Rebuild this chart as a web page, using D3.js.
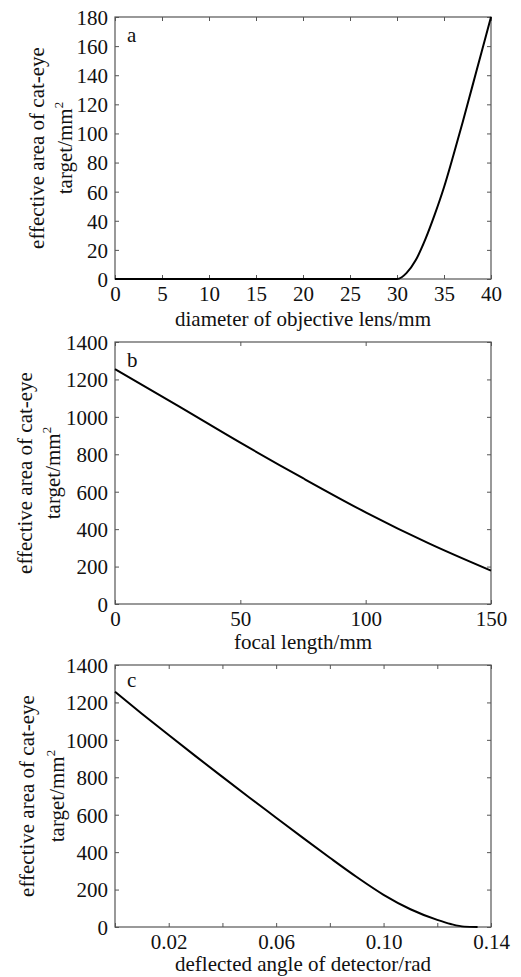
<!DOCTYPE html>
<html><head><meta charset="utf-8">
<script src="https://cdn.jsdelivr.net/npm/d3@7"></script>
<style>body{margin:0;background:#fff;}</style></head>
<body><svg id="c" width="521" height="977"></svg>
<script>
// Panel a: diameter of objective lens (mm) vs effective area
const aX = [0, 5, 10, 15, 20, 25, 30, 30.5, 31, 32, 33, 34, 35, 36, 37, 38, 39, 40];
const aY = [0, 0, 0, 0, 0, 0, 0, 1.2, 4, 13, 27, 44, 63, 85, 108, 132, 156, 180];
const aXTicks = [0, 5, 10, 15, 20, 25, 30, 35, 40];
const aYTicks = [0, 20, 40, 60, 80, 100, 120, 140, 160, 180];
// Panel b: focal length (mm)
const bX = [0, 25, 50, 75, 100, 125, 150];
const bY = [1255, 1060, 862, 672, 490, 325, 178];
const bXTicks = [0, 50, 100, 150];
const bYTicks = [0, 200, 400, 600, 800, 1000, 1200, 1400];
// Panel c: deflected angle of detector (rad)
const cX = [0, 0.01, 0.02, 0.03, 0.04, 0.05, 0.06, 0.07, 0.08, 0.09, 0.10, 0.11, 0.12, 0.125, 0.13, 0.135];
const cY = [1257, 1140, 1026, 913, 802, 692, 584, 476, 370, 267, 172, 95, 38, 16, 2, 0];
const cXTicks = [0, 0.02, 0.04, 0.06, 0.08, 0.10, 0.12, 0.14];
const cXLabeled = [0.02, 0.06, 0.10, 0.14];
const cYTicks = [0, 200, 400, 600, 800, 1000, 1200, 1400];

const yTitle1 = "effective area of cat-eye";
const yTitle2a = "target/mm";
const fmtInt = d3.format("d");
const panels = [
  {xs:aX, ys:aY, xd:[0,40], yd:[0,180], xt:aXTicks, xl:aXTicks, yt:aYTicks, xfmt:fmtInt,
   title:"diameter of objective lens/mm", tag:"a", top:17, bottom:279, yl1:44, yl2:72, tagDy:25, tDy:47},
  {xs:bX, ys:bY, xd:[0,150], yd:[0,1400], xt:bXTicks, xl:bXTicks, yt:bYTicks, xfmt:fmtInt,
   title:"focal length/mm", tag:"b", top:342, bottom:604, yl1:32, yl2:60, tagDy:25, tDy:45},
  {xs:cX, ys:cY, xd:[0,0.14], yd:[0,1400], xt:cXTicks, xl:cXLabeled, yt:cYTicks, xfmt:d3.format(".2f"),
   title:"deflected angle of detector/rad", tag:"c", top:665, bottom:927, yl1:34, yl2:64, tagDy:22, tDy:44}
];
const L = 115, R = 491, FS = 21, TK = 4, FF = "Times New Roman";
const svg = d3.select("#c");
const fontify = sel => sel.attr("font-family", FF).attr("font-size", FS).attr("fill", "#111");

panels.forEach(p => {
  const x = d3.scaleLinear().domain(p.xd).range([L, R]);
  const y = d3.scaleLinear().domain(p.yd).range([p.bottom, p.top]);
  const g = svg.append("g");
  g.append("rect").attr("x", L).attr("y", p.top).attr("width", R - L).attr("height", p.bottom - p.top)
    .attr("fill", "none").attr("stroke", "#555").attr("stroke-width", 1.2);
  const bx = g.append("g").attr("transform", `translate(0,${p.bottom})`)
    .call(d3.axisBottom(x).tickValues(p.xt).tickSize(-TK)
      .tickFormat(d => p.xl.some(v => Math.abs(v - d) < 1e-9) ? p.xfmt(d) : ""));
  const tx = g.append("g").attr("transform", `translate(0,${p.top})`)
    .call(d3.axisTop(x).tickValues(p.xt).tickSize(-TK).tickFormat(""));
  const ly = g.append("g").attr("transform", `translate(${L},0)`)
    .call(d3.axisLeft(y).tickValues(p.yt).tickSize(-TK).tickPadding(7).tickFormat(fmtInt));
  const ry = g.append("g").attr("transform", `translate(${R},0)`)
    .call(d3.axisRight(y).tickValues(p.yt).tickSize(-TK).tickFormat(""));
  [bx, tx, ly, ry].forEach(a => {
    fontify(a);
    a.select(".domain").remove();
    a.selectAll("line").attr("stroke", "#555");
    fontify(a.selectAll("text"));
  });
  bx.selectAll("text").attr("dy", null).attr("y", 22);
  ly.selectAll("text").attr("dy", "0.35em");
  const data = p.xs.map((v, i) => [v, p.ys[i]]);
  g.append("path").datum(data)
    .attr("d", d3.line().x(d => x(d[0])).y(d => y(d[1])).curve(d3.curveMonotoneX))
    .attr("fill", "none").attr("stroke", "#000").attr("stroke-width", 2);
  fontify(g.append("text")).attr("x", L + 12).attr("y", p.top + p.tagDy).text(p.tag);
  fontify(g.append("text")).attr("x", (L + R) / 2).attr("y", p.bottom + p.tDy).attr("text-anchor", "middle").text(p.title);
  const cy = (p.top + p.bottom) / 2;
  fontify(g.append("text")).attr("transform", `translate(${p.yl1},${cy}) rotate(-90)`).attr("text-anchor", "middle").text(yTitle1);
  const t2 = fontify(g.append("text")).attr("transform", `translate(${p.yl2},${cy}) rotate(-90)`).attr("text-anchor", "middle");
  t2.append("tspan").text(yTitle2a);
  t2.append("tspan").attr("font-size", 13).attr("dy", -9).text("2");
});
</script></body></html>
